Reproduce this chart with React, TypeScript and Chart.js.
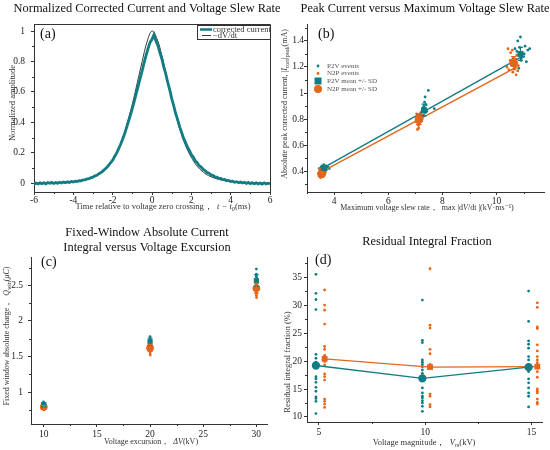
import { useEffect, useRef } from "react";
import { Chart, registerables } from "chart.js";

Chart.register(...registerables);

const TEAL = "#127c84";
const ORANGE = "#e4661b";
const INK = "#333333";
const SERIF = "'Liberation Serif', 'DejaVu Serif', serif";

// ---- (a) normalized curves ----
const aT0 = -6;
const aTealStep = 0.1;
const aTealY = [
  -0.006, 0.002, -0.004, 0.003, -0.002, 0.004, -0.003, 0.005, 0.0, 0.006,
  -0.001, 0.005, 0.001, 0.007, 0.002, 0.008, 0.004, 0.01, 0.006, 0.012,
  0.009, 0.014, 0.012, 0.018, 0.016, 0.022, 0.022, 0.029, 0.03, 0.038,
  0.04, 0.049, 0.053, 0.063, 0.07, 0.08, 0.092, 0.104, 0.12, 0.136,
  0.152, 0.176, 0.198, 0.226, 0.255, 0.288, 0.322, 0.362, 0.404, 0.447,
  0.492, 0.54, 0.59, 0.64, 0.69, 0.74, 0.792, 0.84, 0.885, 0.925,
  0.945,
  0.975, 0.935, 0.905, 0.858, 0.818, 0.763, 0.718, 0.662, 0.615, 0.558,
  0.512, 0.46, 0.42, 0.374, 0.338, 0.298, 0.27, 0.238, 0.216, 0.188,
  0.172, 0.148, 0.136, 0.116, 0.107, 0.091, 0.084, 0.071, 0.066, 0.055,
  0.052, 0.042, 0.041, 0.032, 0.032, 0.024, 0.025, 0.017, 0.019, 0.012,
  0.014, 0.007, 0.011, 0.004, 0.009, 0.002, 0.007, -0.001, 0.006, -0.002,
  0.004, -0.003, 0.003, -0.004, 0.002, -0.005, 0.003, -0.004, 0.001, -0.005,
];
const aDvStep = 0.25;
const aDvY = [
  0.002, 0.002, 0.003, 0.003, 0.004, 0.005, 0.007, 0.009, 0.012, 0.016, 0.022, 0.03,
  0.042, 0.058, 0.08, 0.11, 0.155, 0.215, 0.295, 0.4, 0.52, 0.66, 0.8, 0.93,
  1.0,
  0.95, 0.84, 0.7, 0.56, 0.43, 0.32, 0.235, 0.17, 0.12, 0.085, 0.06, 0.043,
  0.031, 0.022, 0.016, 0.012, 0.009, 0.007, 0.005, 0.004, 0.003, 0.003, 0.002, 0.002,
];
const aXTicks = [-6, -4, -2, 0, 2, 4, 6];
const aXLabels = ["-6", "-4", "-2", "0", "2", "4", "6"];
const aXMinor = [-5, -3, -1, 1, 3, 5];
const aYTicks = [0, 0.2, 0.4, 0.6, 0.8, 1];
const aYLabels = ["0", "0.2", "0.4", "0.6", "0.8", "1"];
const aYMinor = [0.1, 0.3, 0.5, 0.7, 0.9];

// ---- (b) peak current vs slew rate ----
const bP2vX = [
  3.45, 3.5, 3.52, 3.55, 3.58, 3.6, 3.62, 3.63, 3.65, 3.68, 3.7, 3.72, 3.78, 3.82, 3.56,
  7.2, 7.25, 7.28, 7.3, 7.32, 7.35, 7.38, 7.4, 7.42, 7.3, 7.26, 7.48, 7.36, 7.7, 7.34,
  10.6, 10.7, 10.75, 10.8, 10.85, 10.88, 10.9, 10.95, 11.0, 11.05, 11.1, 11.15, 11.22, 10.82, 10.78, 11.02, 10.92, 10.68,
];
const bP2vY = [
  0.42, 0.41, 0.43, 0.44, 0.4, 0.42, 0.45, 0.41, 0.43, 0.42, 0.44, 0.41, 0.43, 0.42, 0.39,
  0.84, 0.86, 0.88, 0.83, 0.9, 0.87, 0.85, 0.91, 0.86, 0.89, 0.82, 1.02, 0.97, 0.88, 0.93,
  1.26, 1.22, 1.32, 1.29, 1.35, 1.43, 1.25, 1.31, 1.28, 1.36, 1.24, 1.33, 1.34, 1.19, 1.4, 1.3, 1.27, 1.34,
];
const bN2pX = [
  3.42, 3.45, 3.48, 3.5, 3.52, 3.54, 3.55, 3.57, 3.6, 3.62, 3.65, 3.5, 3.47, 3.58, 3.68,
  7.02, 7.05, 7.08, 7.1, 7.12, 7.14, 7.15, 7.18, 7.2, 7.22, 7.25, 7.08, 7.12, 7.3, 7.06,
  10.38, 10.45, 10.5, 10.55, 10.58, 10.6, 10.62, 10.65, 10.68, 10.7, 10.72, 10.75, 10.8, 10.52, 10.66, 10.78, 10.42,
];
const bN2pY = [
  0.38, 0.36, 0.39, 0.4, 0.37, 0.38, 0.41, 0.39, 0.36, 0.4, 0.38, 0.35, 0.42, 0.37, 0.39,
  0.78, 0.84, 0.76, 0.8, 0.73, 0.82, 0.77, 0.79, 0.85, 0.81, 0.83, 0.72, 0.75, 0.86, 0.8,
  1.2, 1.18, 1.25, 1.22, 1.33, 1.16, 1.27, 1.23, 1.19, 1.26, 1.14, 1.29, 1.21, 1.31, 1.24, 1.17, 1.34,
];
const bP2vMeanX = [3.62, 7.32, 10.88];
const bP2vMeanY = [0.42, 0.87, 1.3];
const bP2vSd = [0.015, 0.045, 0.05];
const bN2pMeanX = [3.54, 7.14, 10.63];
const bN2pMeanY = [0.38, 0.8, 1.23];
const bN2pSd = [0.018, 0.04, 0.05];
const bP2vFitX = [3.55, 10.9];
const bP2vFitY = [0.42, 1.275];
const bN2pFitX = [3.45, 10.75];
const bN2pFitY = [0.385, 1.2];
const bXTicks = [4, 6, 8, 10];
const bXLabels = ["4", "6", "8", "10"];
const bXMinor = [3, 5, 7, 9, 11];
const bYTicks = [0.4, 0.6, 0.8, 1, 1.2, 1.4];
const bYLabels = ["0.4", "0.6", "0.8", "1", "1.2", "1.4"];
const bYMinor = [0.3, 0.5, 0.7, 0.9, 1.1, 1.3, 1.5];
const bLegend = ["P2V events", "N2P events", "P2V mean +/- SD", "N2P mean +/- SD"];

// ---- (c) fixed-window charge vs excursion ----
const cP2vX = [
  9.98, 10.0, 10.02, 9.99, 10.01, 10.0, 9.98, 10.02, 10.0,
  19.98, 20.0, 20.02, 19.99, 20.01, 20.0, 19.98, 20.02, 20.0, 20.0, 20.01,
  29.98, 30.0, 30.02, 29.99, 30.01, 30.0, 29.98, 30.02, 30.0, 30.0, 30.0, 29.99,
];
const cP2vY = [
  0.79, 0.8, 0.81, 0.82, 0.83, 0.84, 0.86, 0.8, 0.82,
  1.64, 1.66, 1.68, 1.69, 1.7, 1.71, 1.72, 1.73, 1.75, 1.78, 1.67,
  2.45, 2.48, 2.5, 2.53, 2.55, 2.56, 2.58, 2.6, 2.63, 2.66, 2.73, 2.52,
];
const cN2pX = [
  10.02, 10.0, 9.98, 10.01, 9.99, 10.03, 10.0, 10.02, 9.98,
  20.02, 20.0, 19.98, 20.01, 19.99, 20.03, 20.0, 20.02, 19.98, 20.0, 20.01,
  30.02, 30.0, 29.98, 30.01, 29.99, 30.03, 30.0, 30.02, 29.98, 30.0, 30.01, 29.99,
];
const cN2pY = [
  0.75, 0.76, 0.77, 0.78, 0.79, 0.8, 0.81, 0.82, 0.78,
  1.52, 1.55, 1.58, 1.6, 1.62, 1.63, 1.64, 1.65, 1.66, 1.68, 1.57,
  2.33, 2.36, 2.39, 2.42, 2.45, 2.47, 2.48, 2.5, 2.52, 2.55, 2.44, 2.4,
];
const cExcursion = [10, 20, 30];
const cP2vMean = [0.82, 1.71, 2.57];
const cP2vSd = [0.03, 0.05, 0.08];
const cN2pMean = [0.79, 1.62, 2.46];
const cN2pSd = [0.02, 0.05, 0.07];
const cXTicks = [10, 15, 20, 25, 30];
const cXLabels = ["10", "15", "20", "25", "30"];
const cXMinor = [12.5, 17.5, 22.5, 27.5];
const cYTicks = [1, 1.5, 2, 2.5];
const cYLabels = ["1", "1.5", "2", "2.5"];
const cYMinor = [0.75, 1.25, 1.75, 2.25, 2.75];

// ---- (d) residual integral fraction ----
const dP2vXs = [4.86, 9.87, 14.87];
const dN2pXs = [5.27, 10.23, 15.28];
const dP2vVals = [
  [35.5, 32.1, 31.0, 29.2, 21.2, 20.5, 19.8, 19.4, 17.2, 16.8, 16.2, 15.3, 14.6, 13.6, 13.3, 12.8, 10.6],
  [30.9, 23.7, 23.3, 20.2, 19.8, 19.4, 19.0, 18.4, 17.8, 16.9, 15.2, 14.3, 13.7, 13.4, 12.9, 12.5, 11.9, 11.0],
  [32.5, 27.1, 23.6, 23.0, 22.3, 20.8, 20.2, 19.3, 18.1, 16.8, 16.1, 15.2, 14.3, 13.7, 11.8],
];
const dN2pVals = [
  [32.7, 30.0, 29.1, 26.6, 22.6, 22.1, 21.0, 20.8, 20.5, 19.9, 19.3, 17.7, 17.2, 16.6, 13.2, 12.8, 12.3, 11.7],
  [36.5, 26.4, 25.9, 22.1, 21.3, 19.4, 19.0, 18.7, 14.1, 13.7, 12.2, 11.8],
  [30.4, 29.6, 26.1, 25.8, 22.9, 21.8, 20.8, 20.2, 19.7, 19.3, 19.0, 18.1, 17.1, 15.0, 14.6, 14.3, 13.2, 12.6, 12.3],
];
const dP2vMean = [19.2, 16.9, 18.9];
const dN2pMean = [20.4, 18.9, 19.0];
const dXTicks = [5, 10, 15];
const dXLabels = ["5", "10", "15"];
const dXMinor = [7.5, 12.5];
const dYTicks = [10, 15, 20, 25, 30, 35];
const dYLabels = ["10", "15", "20", "25", "30", "35"];
const dYMinor = [12.5, 17.5, 22.5, 27.5, 32.5, 37.5];

type Seg = { t: string; sub?: boolean; it?: boolean };
type Err = { x: number; y: number; sd: number; color: string };
interface Decor {
  title: string[];
  titleX: number;
  titleY: number;
  letter: string;
  letterX: number;
  letterY: number;
  xTitle: Seg[];
  xTitlePos: [number, number];
  yTitle: Seg[];
  yTitlePos: [number, number];
  axisSize: number;
  box?: boolean;
  minorX: number[];
  minorY: number[];
  errors?: Err[];
  legend?: (ctx: CanvasRenderingContext2D, chart: any) => void;
}

function drawRich(ctx: CanvasRenderingContext2D, segs: Seg[], cx: number, cy: number, size: number, rotate: boolean) {
  ctx.save();
  ctx.translate(cx, cy);
  if (rotate) ctx.rotate(-Math.PI / 2);
  const fonts = segs.map((s) => `${s.it ? "italic " : ""}${s.sub ? size * 0.72 : size}px ${SERIF}`);
  let total = 0;
  const widths = segs.map((s, i) => {
    ctx.font = fonts[i];
    const w = ctx.measureText(s.t).width;
    total += w;
    return w;
  });
  let x = -total / 2;
  ctx.textBaseline = "middle";
  ctx.textAlign = "left";
  ctx.fillStyle = INK;
  segs.forEach((s, i) => {
    ctx.font = fonts[i];
    ctx.fillText(s.t, x, s.sub ? size * 0.3 : 0);
    x += widths[i];
  });
  ctx.restore();
}

function decor(d: Decor) {
  return {
    id: "decor",
    afterDatasetsDraw(chart: any) {
      const ctx = chart.ctx as CanvasRenderingContext2D;
      const xs = chart.scales.x;
      const ys = chart.scales.y;
      (d.errors || []).forEach((e) => {
        const px = xs.getPixelForValue(e.x);
        const p1 = ys.getPixelForValue(e.y - e.sd);
        const p2 = ys.getPixelForValue(e.y + e.sd);
        ctx.save();
        ctx.strokeStyle = e.color;
        ctx.lineWidth = 1.2;
        ctx.beginPath();
        ctx.moveTo(px, p1);
        ctx.lineTo(px, p2);
        ctx.moveTo(px - 2.5, p1);
        ctx.lineTo(px + 2.5, p1);
        ctx.moveTo(px - 2.5, p2);
        ctx.lineTo(px + 2.5, p2);
        ctx.stroke();
        ctx.restore();
      });
    },
    afterDraw(chart: any) {
      const ctx = chart.ctx as CanvasRenderingContext2D;
      const ca = chart.chartArea;
      const xs = chart.scales.x;
      const ys = chart.scales.y;
      ctx.save();
      ctx.strokeStyle = INK;
      ctx.lineWidth = 1;
      ctx.beginPath();
      d.minorX.forEach((v) => {
        const p = Math.round(xs.getPixelForValue(v)) + 0.5;
        ctx.moveTo(p, ca.bottom);
        ctx.lineTo(p, ca.bottom + 2);
      });
      d.minorY.forEach((v) => {
        const p = Math.round(ys.getPixelForValue(v)) + 0.5;
        if (p < ca.top) return;
        ctx.moveTo(ca.left, p);
        ctx.lineTo(ca.left - 2, p);
      });
      if (d.box) {
        ctx.moveTo(ca.left, ca.top + 0.5);
        ctx.lineTo(ca.right + 0.5, ca.top + 0.5);
        ctx.lineTo(ca.right + 0.5, ca.bottom);
      }
      ctx.stroke();

      ctx.fillStyle = "#111";
      ctx.textAlign = "center";
      ctx.textBaseline = "middle";
      ctx.font = `12.4px ${SERIF}`;
      d.title.forEach((t, i) => ctx.fillText(t, d.titleX, d.titleY + i * 15));
      ctx.font = `14px ${SERIF}`;
      ctx.textAlign = "left";
      ctx.fillText(d.letter, d.letterX, d.letterY);
      drawRich(ctx, d.xTitle, d.xTitlePos[0], d.xTitlePos[1], d.axisSize, false);
      drawRich(ctx, d.yTitle, d.yTitlePos[0], d.yTitlePos[1], d.axisSize, true);
      if (d.legend) d.legend(ctx, chart);
      ctx.restore();
    },
  };
}

function axis(min: number, max: number, ticks: number[], labels: string[], fixed: number, horiz: boolean, pad: number) {
  return {
    type: "linear",
    min,
    max,
    afterBuildTicks: (s: any) => {
      s.ticks = ticks.map((v) => ({ value: v }));
    },
    afterFit: (s: any) => {
      if (horiz) s.height = fixed;
      else s.width = fixed;
    },
    ticks: {
      callback: (_v: any, i: number) => labels[i],
      color: "#222",
      font: { family: SERIF, size: 9.5 },
      padding: pad,
      autoSkip: false,
      maxRotation: 0,
    },
    grid: { drawOnChartArea: false, drawTicks: true, tickLength: 3, tickColor: INK, color: INK },
    border: { display: true, color: INK, width: 1 },
  };
}

const pts = (xs: number[], ys: number[]) => xs.map((x, i) => ({ x, y: ys[i] }));

function baseOptions(scales: any, padding: any) {
  return {
    responsive: false,
    animation: false,
    layout: { padding },
    plugins: { legend: { display: false }, tooltip: { enabled: false }, title: { display: false } },
    scales,
  };
}

function configA() {
  const teal = aTealY.map((y, i) => ({ x: aT0 + i * aTealStep, y }));
  const dv = aDvY.map((y, i) => ({ x: aT0 + i * aDvStep, y }));
  return {
    type: "scatter",
    data: {
      datasets: [
        { data: teal, showLine: true, borderColor: TEAL, borderWidth: 2.8, pointRadius: 0, order: 0 },
        { data: dv, showLine: true, borderColor: "#3a3a3a", borderWidth: 1, pointRadius: 0, tension: 0.4, order: 1 },
      ],
    },
    options: baseOptions(
      { x: axis(-6, 6, aXTicks, aXLabels, 33, true, 0), y: axis(-0.057, 1.046, aYTicks, aYLabels, 34, false, 6) },
      { left: 0, top: 24, right: 20, bottom: 0 }
    ),
    plugins: [
      decor({
        title: ["Normalized Corrected Current and Voltage Slew Rate"],
        titleX: 147,
        titleY: 9,
        letter: "(a)",
        letterX: 40,
        letterY: 34,
        xTitle: [
          { t: "Time relative to voltage zero crossing，  " },
          { t: "t − t", it: true },
          { t: "0", sub: true, it: true },
          { t: "(ms)" },
        ],
        xTitlePos: [163, 207],
        yTitle: [{ t: "Normalized amplitude" }],
        yTitlePos: [13, 103],
        axisSize: 8.5,
        box: true,
        minorX: aXMinor,
        minorY: aYMinor,
        legend: (ctx, chart) => {
          const ca = chart.chartArea;
          const l = 197;
          const t = ca.top + 1;
          ctx.strokeStyle = INK;
          ctx.lineWidth = 1;
          ctx.strokeRect(l + 0.5, t + 0.5, ca.right - l, 14);
          ctx.strokeStyle = TEAL;
          ctx.lineWidth = 2.5;
          ctx.beginPath();
          ctx.moveTo(l + 3, t + 4.5);
          ctx.lineTo(l + 15, t + 4.5);
          ctx.stroke();
          ctx.strokeStyle = "#3a3a3a";
          ctx.lineWidth = 1;
          ctx.beginPath();
          ctx.moveTo(l + 5, t + 10.5);
          ctx.lineTo(l + 14, t + 10.5);
          ctx.stroke();
          ctx.fillStyle = INK;
          ctx.font = `8.5px ${SERIF}`;
          ctx.textAlign = "left";
          ctx.fillText("corrected current", l + 16, t + 4.5);
          ctx.fillText("−dV/dt", l + 16, t + 10.5);
        },
      }),
    ],
  };
}

function configB() {
  return {
    type: "scatter",
    data: {
      datasets: [
        { data: pts(bP2vMeanX, bP2vMeanY), pointStyle: "rect", pointRadius: 3.5, backgroundColor: TEAL, borderColor: TEAL, order: 0 },
        { data: pts(bN2pMeanX, bN2pMeanY), pointStyle: "circle", pointRadius: 4, backgroundColor: ORANGE, borderColor: ORANGE, order: 0 },
        { data: pts(bP2vFitX, bP2vFitY), showLine: true, borderColor: TEAL, borderWidth: 1.4, pointRadius: 0, order: 1 },
        { data: pts(bN2pFitX, bN2pFitY), showLine: true, borderColor: ORANGE, borderWidth: 1.4, pointRadius: 0, order: 1 },
        { data: pts(bN2pX, bN2pY), pointRadius: 1.4, backgroundColor: ORANGE, borderWidth: 0, order: 2 },
        { data: pts(bP2vX, bP2vY), pointRadius: 1.4, backgroundColor: TEAL, borderWidth: 0, order: 3 },
      ],
    },
    options: baseOptions(
      { x: axis(3.0, 11.75, bXTicks, bXLabels, 33, true, 0.5), y: axis(0.24, 1.53, bYTicks, bYLabels, 32, false, 0) },
      { left: 0, top: 24, right: 6, bottom: 0 }
    ),
    plugins: [
      decor({
        title: ["Peak Current versus Maximum Voltage Slew Rate"],
        titleX: 150,
        titleY: 9,
        letter: "(b)",
        letterX: 43,
        letterY: 34,
        xTitle: [
          { t: "Maximum voltage slew rate，  max |d" },
          { t: "V", it: true },
          { t: "/dt |(kV·ms⁻¹)" },
        ],
        xTitlePos: [152, 208],
        yTitle: [
          { t: "Absolute peak corrected current, |" },
          { t: "I", it: true },
          { t: "corr", sub: true },
          { t: "|" },
          { t: "peak", sub: true },
          { t: "(mA)" },
        ],
        yTitlePos: [10, 104],
        axisSize: 8,
        minorX: bXMinor,
        minorY: bYMinor,
        errors: [
          ...bP2vMeanX.map((x, i) => ({ x, y: bP2vMeanY[i], sd: bP2vSd[i], color: TEAL })),
          ...bN2pMeanX.map((x, i) => ({ x, y: bN2pMeanY[i], sd: bN2pSd[i], color: ORANGE })),
        ],
        legend: (ctx) => {
          const mx = 43;
          const tx = 52;
          const rows = [66, 73.5, 81, 89];
          const cols = [TEAL, ORANGE, TEAL, ORANGE];
          rows.forEach((y, i) => {
            ctx.fillStyle = cols[i];
            ctx.beginPath();
            if (i < 2) ctx.arc(mx, y, 1.4, 0, Math.PI * 2);
            else if (i === 2) ctx.rect(mx - 3.5, y - 3.5, 7, 7);
            else ctx.arc(mx, y, 4, 0, Math.PI * 2);
            ctx.fill();
            ctx.fillStyle = "#555";
            ctx.font = `7px ${SERIF}`;
            ctx.textAlign = "left";
            ctx.fillText(bLegend[i], tx, y);
          });
        },
      }),
    ],
  };
}

function configC() {
  return {
    type: "scatter",
    data: {
      datasets: [
        { data: pts(cExcursion, cP2vMean), pointStyle: "rect", pointRadius: 3, backgroundColor: TEAL, borderColor: TEAL, order: 0 },
        { data: pts(cExcursion, cN2pMean), pointStyle: "circle", pointRadius: 3.5, backgroundColor: ORANGE, borderColor: ORANGE, order: 0 },
        { data: pts(cN2pX, cN2pY), pointRadius: 1.4, backgroundColor: ORANGE, borderWidth: 0, order: 2 },
        { data: pts(cP2vX, cP2vY), pointRadius: 1.4, backgroundColor: TEAL, borderWidth: 0, order: 3 },
      ],
    },
    options: baseOptions(
      { x: axis(8.8, 31, cXTicks, cXLabels, 26, true, 1.5), y: axis(0.55, 2.9, cYTicks, cYLabels, 31, false, 5) },
      { left: 0, top: 32, right: 8, bottom: 0 }
    ),
    plugins: [
      decor({
        title: ["Fixed-Window Absolute Current", "Integral versus Voltage Excursion"],
        titleX: 147,
        titleY: 8,
        letter: "(c)",
        letterX: 41,
        letterY: 37,
        xTitle: [{ t: "Voltage excursion，  " }, { t: "ΔV", it: true }, { t: "(kV)" }],
        xTitlePos: [151, 216.5],
        yTitle: [
          { t: "Fixed window absolute charge，  " },
          { t: "Q", it: true },
          { t: "win", sub: true },
          { t: "(" },
          { t: "μC", it: true },
          { t: ")" },
        ],
        yTitlePos: [7, 111],
        axisSize: 8,
        minorX: cXMinor,
        minorY: cYMinor,
        errors: [
          ...cExcursion.map((x, i) => ({ x, y: cP2vMean[i], sd: cP2vSd[i], color: TEAL })),
          ...cExcursion.map((x, i) => ({ x, y: cN2pMean[i], sd: cN2pSd[i], color: ORANGE })),
        ],
      }),
    ],
  };
}

function configD() {
  const p2v = dP2vVals.flatMap((vals, g) => vals.map((y) => ({ x: dP2vXs[g], y })));
  const n2p = dN2pVals.flatMap((vals, g) => vals.map((y) => ({ x: dN2pXs[g], y })));
  return {
    type: "scatter",
    data: {
      datasets: [
        { data: pts(dP2vXs, dP2vMean), showLine: true, borderColor: TEAL, borderWidth: 1.3, pointRadius: 3.5, backgroundColor: TEAL, order: 0 },
        { data: pts(dN2pXs, dN2pMean), showLine: true, borderColor: ORANGE, borderWidth: 1.3, pointRadius: 3.2, pointStyle: "rect", backgroundColor: ORANGE, order: 0 },
        { data: n2p, pointRadius: 1.4, backgroundColor: ORANGE, borderWidth: 0, order: 2 },
        { data: p2v, pointRadius: 1.4, backgroundColor: TEAL, borderWidth: 0, order: 3 },
      ],
    },
    options: baseOptions(
      { x: axis(4.44, 15.5, dXTicks, dXLabels, 28, true, 1.5), y: axis(9.1, 38.6, dYTicks, dYLabels, 32, false, 2) },
      { left: 0, top: 32, right: 8, bottom: 0 }
    ),
    plugins: [
      decor({
        title: ["Residual Integral Fraction"],
        titleX: 152,
        titleY: 17,
        letter: "(d)",
        letterX: 40,
        letterY: 35,
        xTitle: [{ t: "Voltage magnitude，  " }, { t: "V", it: true }, { t: "m", sub: true, it: true }, { t: "(kV)" }],
        xTitlePos: [149, 218],
        yTitle: [{ t: "Residual integral fraction (%)" }],
        yTitlePos: [13, 137],
        axisSize: 8.5,
        minorX: dXMinor,
        minorY: dYMinor,
      }),
    ],
  };
}

function Panel({ make, left, top, width, height }: { make: () => any; left: number; top: number; width: number; height: number }) {
  const ref = useRef<HTMLCanvasElement>(null);
  useEffect(() => {
    if (!ref.current) return;
    const chart = new Chart(ref.current, make());
    return () => chart.destroy();
    // eslint-disable-next-line react-hooks/exhaustive-deps
  }, []);
  return (
    <canvas
      ref={ref}
      width={width}
      height={height}
      style={{ position: "absolute", left, top, width, height }}
    />
  );
}

export default function App() {
  return (
    <div style={{ position: "absolute", left: 0, top: 0, width: 550, height: 450, background: "#fff", overflow: "hidden" }}>
      <Panel make={configA} left={0} top={0} width={290} height={225} />
      <Panel make={configB} left={275} top={0} width={275} height={225} />
      <Panel make={configC} left={0} top={225} width={275} height={225} />
      <Panel make={configD} left={275} top={225} width={275} height={225} />
    </div>
  );
}
